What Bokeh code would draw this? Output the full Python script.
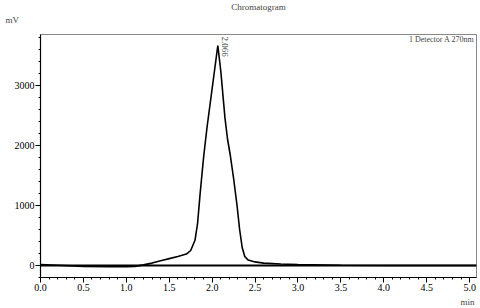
import math
from bokeh.plotting import figure
from bokeh.models import Label, Range1d, FixedTicker, Title
from bokeh.embed import file_html
from bokeh.resources import INLINE

# Chromatogram trace (time in min, signal in mV)
time_min = [0.0, 0.2, 0.5, 0.8, 1.0, 1.1, 1.2, 1.3, 1.4, 1.5, 1.6, 1.7, 1.75, 1.8,
            1.83, 1.86, 1.9, 1.94, 2.0, 2.066, 2.1, 2.15, 2.18, 2.21, 2.25, 2.29,
            2.32, 2.35, 2.38, 2.42, 2.5, 2.6, 2.8, 3.0, 3.5, 4.0, 5.08]
signal_mv = [15, 5, -15, -20, -20, -15, 10, 40, 80, 115, 150, 190, 250, 420,
             700, 1200, 1800, 2300, 2950, 3667, 3250, 2450, 2100, 1850, 1450, 1000,
             600, 300, 150, 90, 60, 40, 25, 15, 5, 0, 0]
baseline_t = [0.0, 5.08]
baseline_mv = [0, 0]

peak_time = 2.066
peak_label = "2.066"
x_ticks = [0.0, 0.5, 1.0, 1.5, 2.0, 2.5, 3.0, 3.5, 4.0, 4.5, 5.0]
y_ticks = [0, 1000, 2000, 3000]

FONT = "Liberation Serif"
X_END = 5.08
Y_MIN, Y_MAX = -200, 3850
FL, FR, FT, FB = 40, 476, 33, 277  # frame edges in page pixels

p = figure(width=480, height=308, output_backend="svg", toolbar_location=None,
           x_range=Range1d(0, X_END), y_range=Range1d(Y_MIN, Y_MAX),
           min_border_left=FL, min_border_right=480 - FR, min_border_top=0,
           min_border_bottom=0)
p.background_fill_color = "white"
p.border_fill_color = "white"
p.outline_line_color = "#888888"
p.xgrid.visible = False
p.ygrid.visible = False

# baseline and trace
p.line(baseline_t, baseline_mv, line_color="black", line_width=2)
p.line(time_min, signal_mv, line_color="black", line_width=1.6)

# axes
xa = p.xaxis[0]
xa.ticker = FixedTicker(ticks=x_ticks,
                        minor_ticks=[round(i * 0.1, 1) for i in range(0, 51)])
xa.major_label_overrides = {t: f"{t:.1f}" for t in x_ticks}
ya = p.yaxis[0]
ya.ticker = FixedTicker(ticks=y_ticks, minor_ticks=list(range(-200, 3900, 200)))
for ax in (xa, ya):
    ax.axis_line_color = "black"
    ax.axis_line_width = 1.2
    ax.major_tick_line_color = "black"
    ax.minor_tick_line_color = "black"
    ax.major_tick_out = 5
    ax.major_tick_in = 0
    ax.minor_tick_out = 2
    ax.minor_tick_in = 0
    ax.major_label_text_font = FONT
    ax.major_label_text_font_size = "10px"
    ax.major_label_text_color = "black"
xa.major_label_standoff = 1
ya.major_label_standoff = 1

# titles in the border areas (first added sits closest to the frame)
p.add_layout(Title(text=" ", standoff=5, text_font_size="1px"), "above")  # spacer
p.add_layout(Title(text="mV", align="left", offset=-35, standoff=3,
                   text_font=FONT, text_font_size="9px", text_font_style="normal"),
             "above")
p.add_layout(Title(text="Chromatogram", align="center", offset=-18, standoff=-1,
                   text_font=FONT, text_font_size="9px", text_font_style="normal"),
             "above")
p.add_layout(Title(text="min", align="right", offset=2, standoff=3,
                   text_font=FONT, text_font_size="9px", text_font_style="normal"),
             "below")

# in-frame texts, positioned in page pixels converted to data coordinates
def y_at(img_y):
    return Y_MAX - (img_y - FT) * (Y_MAX - Y_MIN) / (FB - FT)
def x_at(img_x):
    return (img_x - FL) * X_END / (FR - FL)

p.add_layout(Label(x=x_at(474), y=y_at(38), text="1 Detector A 270nm", text_font=FONT,
                   text_font_size="8px", text_align="right", text_baseline="middle"))
p.add_layout(Label(x=x_at(224), y=y_at(35), text=peak_label, text_font=FONT,
                   text_font_size="9px", text_align="left", text_baseline="middle",
                   angle=-math.pi / 2))

open("out.html", "w").write(file_html(p, INLINE))
